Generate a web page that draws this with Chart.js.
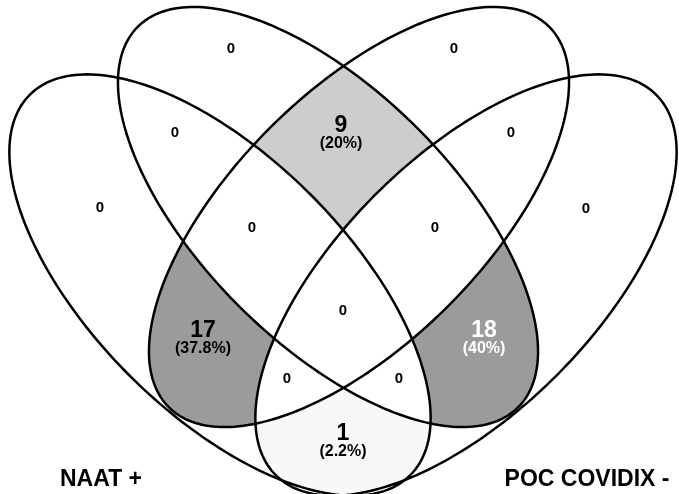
<!DOCTYPE html>
<html>
<head>
<meta charset="utf-8">
<script src="https://cdn.jsdelivr.net/npm/chart.js@4.4.0/dist/chart.umd.min.js"></script>
<style>
  html, body { margin: 0; padding: 0; background: #fff; }
  #wrap { width: 679px; height: 494px; }
</style>
</head>
<body>
<div id="wrap"><canvas id="venn"></canvas></div>
<script>
// the four sets, outer left to outer right
const setKeys = ['A', 'B', 'C', 'D']
const setLabels = ['NAAT +', '', '', 'POC COVIDIX -']

// every region of the diagram and its count
const regions = ['A', 'B', 'C', 'D', 'AB', 'AC', 'AD', 'BC', 'BD', 'CD', 'ABC', 'ABD', 'ACD', 'BCD', 'ABCD']
const counts = [0, 0, 0, 0, 0, 17, 1, 9, 18, 0, 0, 0, 0, 0, 0]

// ellipse geometry, plot units (x 0..679, y 0..494 going down)
const ellipses = [
  { cx: 220, cy: 285, a: 269, b: 128, rot: 45 },
  { cx: 328, cy: 217, a: 269, b: 126, rot: 45 },
  { cx: 359, cy: 217, a: 269, b: 126, rot: -45 },
  { cx: 466, cy: 285, a: 269, b: 128, rot: -45 }
]
// anchor of each region label (same order as regions)
const labelPos = [
  [100, 208], [231, 49], [454, 49], [586, 209],
  [175, 133], [203, 339], [343, 442], [341, 134], [484, 339], [511, 133],
  [252, 228], [399, 379], [287, 379], [435, 228], [343, 311]
]
const setLabelPos = [[101, 480], null, null, [587, 480]]

// shading of the non-empty regions
const regionFill = { BC: '#cdcdcd', AC: '#9b9b9b', BD: '#9b9b9b', AD: '#f8f8f8' }
const regionText = { BD: '#ffffff' }

const total = counts.reduce((s, v) => s + v, 0)

function ellipsePath (ctx, e, xs, ys) {
  const t = e.rot * Math.PI / 180
  for (let i = 0; i <= 240; i++) {
    const u = i / 240 * 2 * Math.PI
    const x = e.cx + e.a * Math.cos(u) * Math.cos(t) - e.b * Math.sin(u) * Math.sin(t)
    const y = e.cy + e.a * Math.cos(u) * Math.sin(t) + e.b * Math.sin(u) * Math.cos(t)
    const px = xs.getPixelForValue(x)
    const py = ys.getPixelForValue(y)
    if (i == 0) { ctx.moveTo(px, py) } else { ctx.lineTo(px, py) }
  }
  ctx.closePath()
}

const vennPlugin = {
  id: 'venn',
  beforeDatasetsDraw (chart) {
    const { ctx, chartArea, scales: { x, y } } = chart
    const w = chart.width, h = chart.height
    // shaded regions: clip into member sets, out of the others
    regions.forEach((key) => {
      if (!regionFill[key]) { return }
      ctx.save()
      ctx.beginPath()
      ctx.rect(chartArea.left, chartArea.top, chartArea.width, chartArea.height)
      ctx.clip()
      setKeys.forEach((k, i) => {
        ctx.beginPath()
        if (key.includes(k)) {
          ellipsePath(ctx, ellipses[i], x, y)
          ctx.clip()
        } else {
          ctx.rect(-10, -10, w + 20, h + 20)
          ellipsePath(ctx, ellipses[i], x, y)
          ctx.clip('evenodd')
        }
      })
      ctx.fillStyle = regionFill[key]
      ctx.fillRect(0, 0, w, h)
      ctx.restore()
    })
    // outlines
    ctx.save()
    ctx.strokeStyle = '#000'
    ctx.lineWidth = 2.5
    ellipses.forEach((e) => {
      ctx.beginPath()
      ellipsePath(ctx, e, x, y)
      ctx.stroke()
    })
    ctx.restore()
  },
  afterDatasetsDraw (chart) {
    const ctx = chart.ctx
    ctx.save()
    ctx.textAlign = 'center'
    ctx.textBaseline = 'middle'
    const family = '"Liberation Sans", Arial, Helvetica, sans-serif'
    chart.getDatasetMeta(0).data.forEach((el, i) => {
      const n = counts[i]
      ctx.fillStyle = regionText[regions[i]] || '#000'
      if (n == 0) {
        ctx.font = 'bold 15px ' + family
        ctx.fillText('0', el.x, el.y)
      } else {
        const pct = Math.round(n / total * 1000) / 10
        ctx.font = 'bold 23px ' + family
        ctx.fillText(String(n), el.x, el.y - 8)
        ctx.font = 'bold 16px ' + family
        ctx.fillText('(' + pct + '%)', el.x, el.y + 10)
      }
    })
    ctx.fillStyle = '#000'
    ctx.font = 'bold 23px ' + family
    chart.getDatasetMeta(1).data.forEach((el, i) => {
      ctx.fillText(chart.data.datasets[1].labels[i], el.x, el.y)
    })
    ctx.restore()
  }
}

const setLabelIdx = setLabels.map((l, i) => i).filter(i => setLabels[i] && setLabelPos[i])

new Chart(document.getElementById('venn'), {
  type: 'scatter',
  data: {
    datasets: [{
      label: 'regions',
      data: labelPos.map(p => ({ x: p[0], y: p[1] })),
      pointRadius: 0
    }, {
      label: 'sets',
      data: setLabelIdx.map(i => ({ x: setLabelPos[i][0], y: setLabelPos[i][1] })),
      labels: setLabelIdx.map(i => setLabels[i]),
      pointRadius: 0
    }]
  },
  options: {
    responsive: true,
    maintainAspectRatio: false,
    animation: false,
    events: [],
    layout: { padding: 0 },
    plugins: {
      legend: { display: false },
      tooltip: { enabled: false }
    },
    scales: {
      x: { type: 'linear', min: 0, max: 679, display: false },
      y: { type: 'linear', min: 0, max: 494, reverse: true, display: false }
    }
  },
  plugins: [vennPlugin]
})
</script>
</body>
</html>
